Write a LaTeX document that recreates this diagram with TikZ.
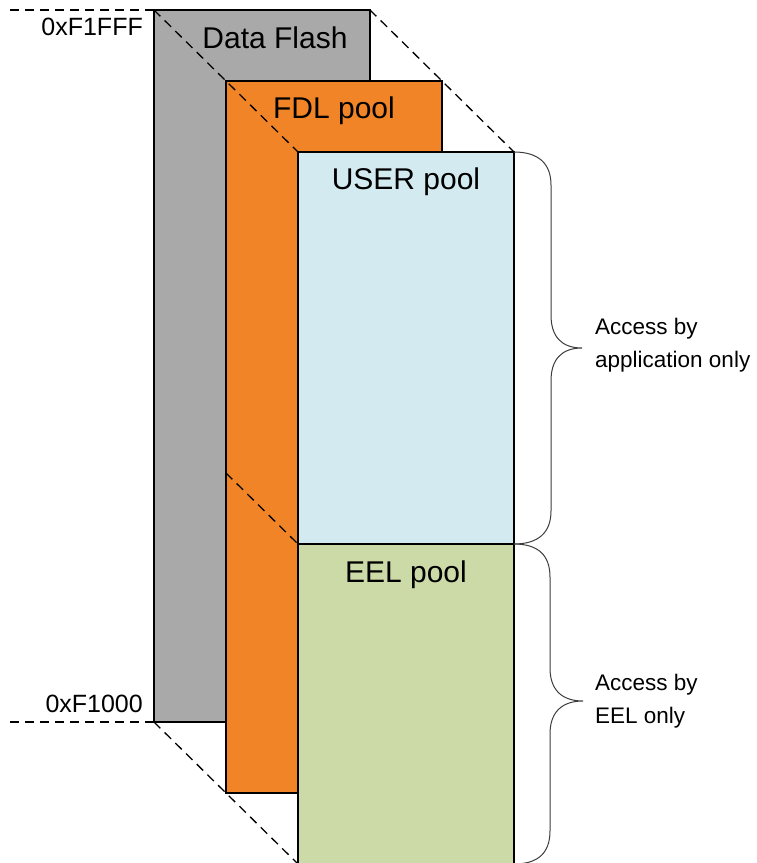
\documentclass[tikz,border=0pt]{standalone}
\usepackage{fontspec}
\setmainfont{Liberation Sans}
\usepackage{tikz}
\usetikzlibrary{positioning}
\definecolor{flashgray}{RGB}{169,169,169}
\definecolor{fdlorange}{RGB}{241,132,38}
\definecolor{userblue}{RGB}{210,234,240}
\definecolor{eelgreen}{RGB}{204,218,168}
\definecolor{bracegray}{RGB}{60,60,60}

\begin{document}
\begin{tikzpicture}[x=1pt, y=-1pt,
  pool/.style={draw=black, line width=1.5pt, inner sep=0pt, outer sep=0pt,
               anchor=north west, minimum width=216pt},
  guide/.style={line width=1.3pt, dash pattern=on 9pt off 6pt},
  poollabel/.style={font=\fontsize{30}{36}\selectfont, anchor=base, inner sep=0pt},
  addr/.style={font=\fontsize{25}{30}\selectfont, anchor=base east, inner sep=0pt},
  note/.style={font=\fontsize{22.5}{33}\selectfont, align=left, anchor=west, inner sep=0pt},
  bracepen/.style={draw=bracegray, line width=1pt}]
  \useasboundingbox (0,0) rectangle (757,863);

  % memory layers, each shifted by one step
  \node[pool, fill=flashgray, minimum height=712pt] (flash) at (154,10) {};
  \node[pool, fill=fdlorange, minimum height=712pt] (fdl) at (226,81) {};
  \node[pool, fill=userblue, minimum height=392pt] (user) at (298,152) {};
  \node[pool, fill=eelgreen, minimum height=320pt] (eel) at (298,544) {};

  % layer names
  \node[poollabel] (flashname) at (275,48) {Data Flash};
  \node[poollabel] (fdlname) at (334,118) {FDL pool};
  \node[poollabel] (username) at (406,189) {USER pool};
  \node[poollabel] (eelname) at (406,582) {EEL pool};

  % address marks
  \coordinate (hitop) at (10,10);
  \coordinate (lobot) at (10,722);
  \coordinate (fdlcut) at (226,473);
  \node[addr] (hiaddr) at (143,35) {0xF1FFF};
  \node[addr] (loaddr) at (143,712) {0xF1000};

  % projection lines
  \draw[guide] (hitop) -- (flash.north west);
  \draw[guide] (lobot) -- (flash.south west);
  \draw[guide] (flash.north west) -- (user.north west);
  \draw[guide] (flash.north east) -- (user.north east);
  \draw[guide] (fdlcut) -- (eel.north west);
  \draw[guide] (flash.south west) -- (eel.south west);

  % access braces
  \begin{scope}[shift={(user.north east)}]
    \draw[bracepen] (0,0) .. controls (25,0) and (37,12) .. (37,33) -- (37,163)
      .. controls (37,184) and (47,196) .. (68,196)
      .. controls (47,196) and (37,208) .. (37,229) -- (37,359)
      .. controls (37,380) and (25,392) .. (0,392);
  \end{scope}
  \begin{scope}[shift={(eel.north east)}]
    \draw[bracepen] (0,0) .. controls (25,0) and (36,12) .. (36,33) -- (36,124)
      .. controls (36,145) and (47,157) .. (69,157)
      .. controls (47,157) and (36,169) .. (36,190) -- (36,287)
      .. controls (36,308) and (25,320) .. (0,320);
  \end{scope}

  \node[note] (appnote) at (595,345) {Access by\\application only};
  \node[note] (eelnote) at (595,701) {Access by\\EEL only};
\end{tikzpicture}
\end{document}
